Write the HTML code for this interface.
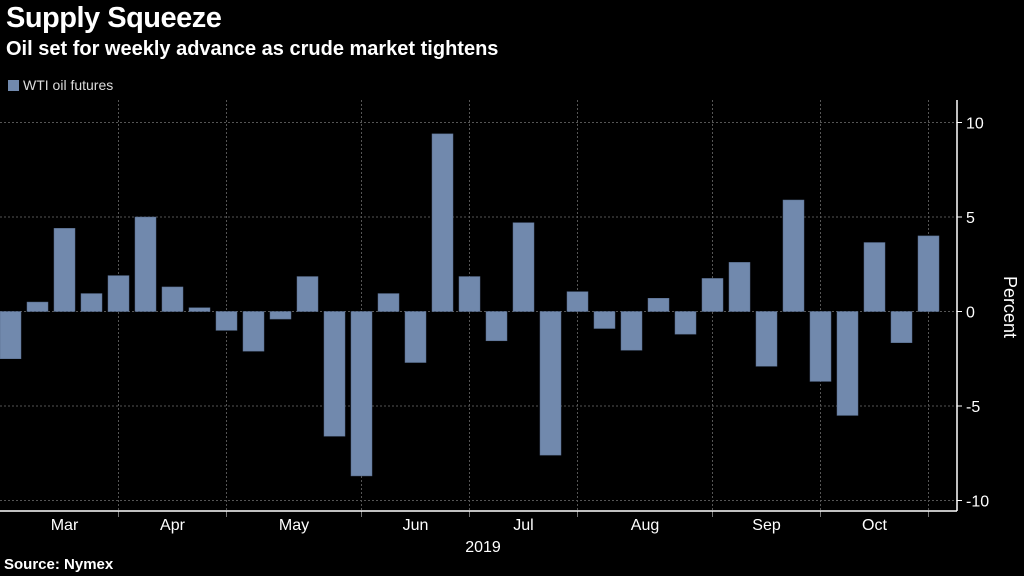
<!DOCTYPE html>
<html><head><meta charset="utf-8"><style>
body{margin:0;background:#000;width:1024px;height:576px;overflow:hidden;font-family:"Liberation Sans",sans-serif;color:#fff}
.t{position:absolute;left:6px;top:2px;font-size:29px;font-weight:bold;letter-spacing:-0.5px}
.s{position:absolute;left:6px;top:38px;font-size:20px;font-weight:bold}
.src{position:absolute;left:4px;top:556px;font-size:15px;font-weight:bold}
.lg{position:absolute;left:8px;top:77px;font-size:14px;color:#ddd}
.lg span{display:inline-block;width:11px;height:11px;background:#7189ad;margin-right:4px;vertical-align:-1px}
</style></head><body>
<div class="t">Supply Squeeze</div>
<div class="s">Oil set for weekly advance as crude market tightens</div>
<div class="lg"><span></span>WTI oil futures</div>
<div class="src">Source: Nymex</div>
<svg id="c" width="1024" height="576" style="position:absolute;left:0;top:0"></svg>
<script>
const values=[-2.5,0.5,4.4,0.95,1.9,5.0,1.3,0.2,-1.0,-2.1,-0.4,1.85,-6.6,-8.7,0.95,-2.7,9.4,1.85,-1.55,4.7,-7.6,1.05,-0.9,-2.05,0.7,-1.2,1.75,2.6,-2.9,5.9,-3.7,-5.5,3.65,-1.65,4.0];
const yTicks=[10,5,0,-5,-10];
const yTickLabels=["10","5","0","-5","-10"];
const months=["Mar","Apr","May","Jun","Jul","Aug","Sep","Oct"];
const monthCenters=[2,6,10.5,15,19,23.5,28,32];
const monthBounds=[4,8,13,17,21,26,30,34];
const svg=document.getElementById('c');
const NS='http://www.w3.org/2000/svg';
const y=v=>311.5-v*18.9;
const x=i=>i*27;
const xc=i=>x(i)+10.5;
function mk(t,a,p){const e=document.createElementNS(NS,t);for(const k in a)e.setAttribute(k,a[k]);(p||svg).appendChild(e);return e;}
yTicks.forEach((t,i)=>{
 const g=mk('line',{x1:0,x2:957,y1:y(t),y2:y(t),stroke:'#555','stroke-dasharray':'2,2'});
 
 
 mk('line',{x1:957,x2:962,y1:y(t),y2:y(t),stroke:'#fff'});
 const l=mk('text',{x:966,y:y(t)+6,fill:'#fff','font-size':16,'font-family':'Liberation Sans'});
 l.textContent=yTickLabels[i];
 
 
});
monthBounds.forEach(b=>{
 const bx=xc(b);
 const g=mk('line',{x1:bx,x2:bx,y1:100,y2:511,stroke:'#555','stroke-dasharray':'2,2'});
 
 
 mk('line',{x1:bx,x2:bx,y1:511,y2:517,stroke:'#777'});
});
values.forEach((v,i)=>{
 const r=mk('rect',{x:x(i),y:Math.min(y(v),y(0)),width:21,height:Math.abs(y(v)-y(0)),fill:'#7189ad',stroke:'#566b8c','stroke-width':0.5});
 
 
});
const ax=mk('line',{x1:0,x2:957,y1:511,y2:511,stroke:'#fff','stroke-width':1.5});


const ay=mk('line',{x1:957,x2:957,y1:100,y2:511,stroke:'#fff','stroke-width':1.5});


months.forEach((m,i)=>{
 const t=mk('text',{x:xc(monthCenters[i]),y:530,fill:'#fff','font-size':16,'text-anchor':'middle','font-family':'Liberation Sans'});
 t.textContent=m;
 
 
});
const yr=mk('text',{x:483,y:552,fill:'#fff','font-size':16,'text-anchor':'middle','font-family':'Liberation Sans'});
yr.textContent='2019';


const yt=mk('text',{x:1004,y:307,fill:'#fff','font-size':18,'text-anchor':'middle','font-family':'Liberation Sans',transform:'rotate(90 1004 307)'});
yt.textContent='Percent';


</script>
</body></html>
